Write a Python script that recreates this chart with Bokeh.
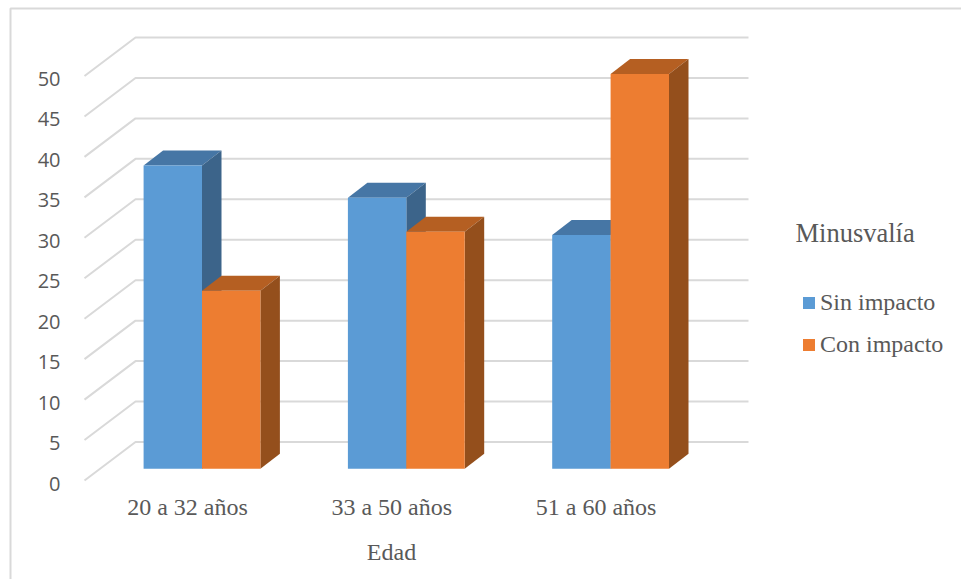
from bokeh.embed import file_html
from bokeh.models import FixedTicker, Label, Legend, LegendItem, LinearAxis, Range1d
from bokeh.plotting import figure
from bokeh.resources import INLINE

# Survey results: share of respondents per age band
categories = ["20 a 32 años", "33 a 50 años", "51 a 60 años"]
sin_impacto = [37.5, 33.5, 28.9]
con_impacto = [22.0, 29.3, 48.8]
y_ticks = [0, 5, 10, 15, 20, 25, 30, 35, 40, 45, 50]

W, H = 961, 579
PX_PER_GROUP = 204.3
PX_PER_UNIT = 8.09
ZERO_PX = 480.0
FIRST_TICK_PX = 187.0

TEXT = "#595959"
GRID = "#D9D9D9"
SERIF = "Liberation Serif"


def gx(px):
    """Horizontal offset in pixels, as group units."""
    return px / PX_PER_GROUP


def gy(px):
    """Vertical offset in pixels, as value units."""
    return px / PX_PER_UNIT


# The plot frame fills the page, so the axes draw their labels inwards
x_range = Range1d(gx(0 - FIRST_TICK_PX), gx(W - FIRST_TICK_PX))
y_range = Range1d(gy(ZERO_PX - H), gy(ZERO_PX))

p = figure(width=W, height=H, x_range=x_range, y_range=y_range,
           output_backend="svg", toolbar_location=None,
           x_axis_type=None, y_axis_type=None,
           min_border=0, min_border_left=0, min_border_right=0,
           min_border_top=0, min_border_bottom=0)
p.outline_line_color = None
p.xgrid.visible = False
p.ygrid.visible = False
p.background_fill_color = "white"

# Value axis on the front edge of the floor; its labels sit slightly low
LABEL_DROP = gy(3)
p.extra_y_ranges["tick_labels"] = Range1d(y_range.start + LABEL_DROP, y_range.end + LABEL_DROP)
y_axis = LinearAxis(ticker=FixedTicker(ticks=y_ticks), y_range_name="tick_labels")
y_axis.axis_line_color = None
y_axis.major_tick_line_color = None
y_axis.minor_tick_line_color = None
y_axis.major_label_standoff = -66
y_axis.major_label_text_font = "Open Sans"
y_axis.major_label_text_font_size = "20px"
y_axis.major_label_text_color = TEXT
p.add_layout(y_axis, "left")

# Category axis
group_ids = list(range(len(categories)))
x_axis = LinearAxis(ticker=FixedTicker(ticks=group_ids),
                    major_label_overrides=dict(zip(group_ids, categories)))
x_axis.axis_line_color = None
x_axis.major_tick_line_color = None
x_axis.minor_tick_line_color = None
x_axis.major_label_standoff = -92
x_axis.major_label_text_font = SERIF
x_axis.major_label_text_font_size = "24px"
x_axis.major_label_text_color = TEXT
p.add_layout(x_axis, "below")

# Chart area border, open along the page bottom and right
ORIGIN_X = gx(10 - FIRST_TICK_PX)
TOP_Y = gy(ZERO_PX - 8)
p.line(x=[ORIGIN_X, ORIGIN_X, gx(W - FIRST_TICK_PX)],
       y=[gy(ZERO_PX - H), TOP_Y, TOP_Y], line_color=GRID, line_width=2)

# Gridlines fold from the side wall onto the back wall
WALL_DX, WALL_DY = gx(51), gy(38.5)
LEFT = gx(84 - FIRST_TICK_PX)
RIGHT = gx(748 - FIRST_TICK_PX)
p.multi_line(xs=[[LEFT, LEFT + WALL_DX, RIGHT] for _ in y_ticks],
             ys=[[t, t + WALL_DY, t + WALL_DY] for t in y_ticks],
             line_color=GRID, line_width=2)

# Extruded bars
BAR_W = gx(58.4)
FLOOR = gy(ZERO_PX - 468.3)
CENTER = gx(14.5)
DEPTH_X, DEPTH_Y = gx(19.5), gy(15)


def bars(values, offset, face, top, side):
    lefts = [i + CENTER + offset for i in group_ids]
    rights = [l + BAR_W for l in lefts]
    tops = [v + FLOOR for v in values]
    p.patches(xs=[[l, r, r + DEPTH_X, l + DEPTH_X] for l, r in zip(lefts, rights)],
              ys=[[t, t, t + DEPTH_Y, t + DEPTH_Y] for t in tops],
              fill_color=top, line_color=None)
    p.patches(xs=[[r, r + DEPTH_X, r + DEPTH_X, r] for r in rights],
              ys=[[FLOOR, FLOOR + DEPTH_Y, t + DEPTH_Y, t] for t in tops],
              fill_color=side, line_color=None)
    return p.quad(left=lefts, right=rights, bottom=FLOOR, top=tops,
                  fill_color=face, line_color=None)


r_sin = bars(sin_impacto, -BAR_W, "#5B9BD5", "#4676A5", "#3C648A")
r_con = bars(con_impacto, 0, "#ED7D31", "#B55F22", "#944F1C")

legend = Legend(items=[LegendItem(label="Sin impacto", renderers=[r_sin]),
                       LegendItem(label="Con impacto", renderers=[r_con])],
                location=(801, 221), border_line_color=None,
                background_fill_alpha=0, padding=0, margin=0, spacing=15,
                glyph_width=15, glyph_height=15, label_standoff=4,
                label_text_font=SERIF, label_text_font_size="24px",
                label_text_color=TEXT)
p.add_layout(legend, "center")

p.add_layout(Label(x=795, y=H - 232, x_units="screen", y_units="screen",
                   text="Minusvalía", text_font=SERIF, text_font_size="26.5px",
                   text_color=TEXT, text_baseline="middle"))
p.add_layout(Label(x=391, y=H - 551, x_units="screen", y_units="screen",
                   text="Edad", text_font=SERIF, text_font_size="24px",
                   text_color=TEXT, text_align="center", text_baseline="middle"))

open("out.html", "w").write(file_html(p, INLINE))
